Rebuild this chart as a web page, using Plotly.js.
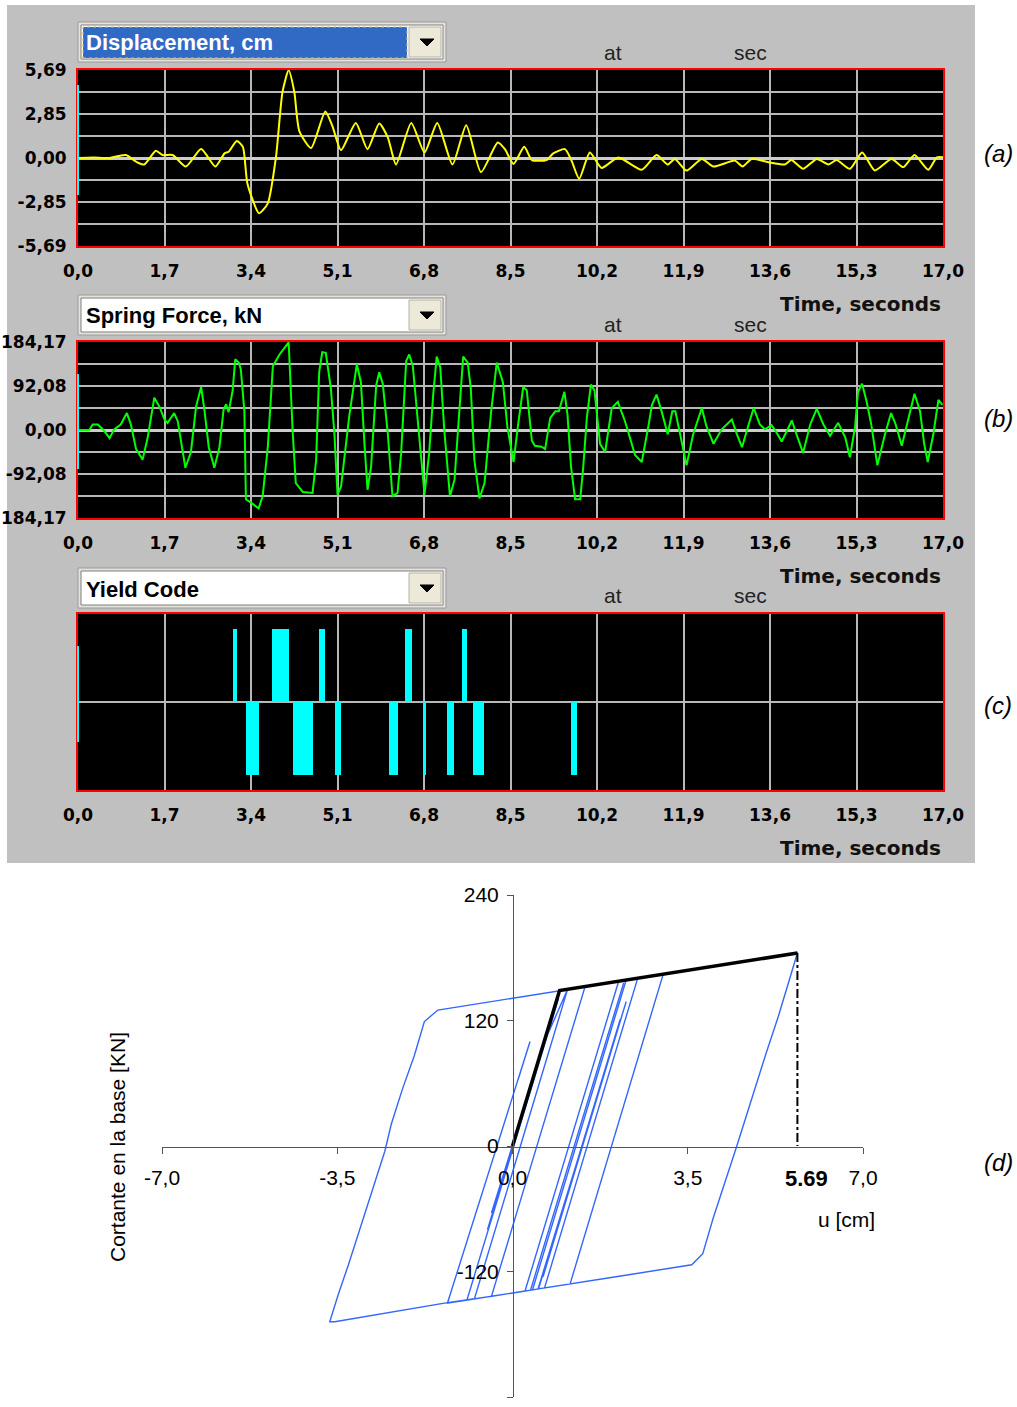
<!DOCTYPE html>
<html>
<head>
<meta charset="utf-8">
<script src="https://cdn.plot.ly/plotly-3.0.1.min.js"></script>
<style>html,body{margin:0;padding:0;background:#fff;}#chart{width:1017px;height:1407px;}</style>
</head>
<body>
<div id="chart"></div>
<script>
// ---------- DATA ----------
const timeTickVals = [0, 1.7, 3.4, 5.1, 6.8, 8.5, 10.2, 11.9, 13.6, 15.3, 17.0];
const timeTickLabels = ['0,0','1,7','3,4','5,1','6,8','8,5','10,2','11,9','13,6','15,3','17,0'];

const dispTickVals = [-5.69,-4.2675,-2.845,-1.4225,0,1.4225,2.845,4.2675,5.69];
const dispTickLabels = ['-5,69','','-2,85','','0,00','','2,85','','5,69'];

const forceTickVals = [-184.17,-138.13,-92.08,-46.04,0,46.04,92.08,138.13,184.17];
const forceTickLabels = ['184,17','','-92,08','','0,00','','92,08','','184,17'];

// (a) displacement, cm
const dispT = [0,0.3,0.6,0.94,1.15,1.30,1.53,1.66,1.86,2.12,2.42,2.70,2.88,2.96,3.12,3.24,3.33,3.56,3.73,3.89,4.02,4.14,4.25,4.35,4.58,4.86,5.00,5.17,5.46,5.69,5.92,6.09,6.25,6.55,6.81,7.06,7.36,7.63,7.92,8.25,8.39,8.56,8.77,8.92,9.21,9.34,9.57,9.70,9.85,10.06,10.29,10.62,11.08,11.37,11.59,11.73,11.96,12.26,12.49,12.91,13.06,13.24,13.57,13.89,14.02,14.25,14.52,14.75,14.91,15.17,15.41,15.66,15.99,16.22,16.44,16.71,16.88,17.0];
const dispV = [0,0.04,0.0,0.19,-0.25,-0.42,0.47,0.19,0.19,-0.55,0.59,-0.55,0.30,0.40,1.10,0.72,-1.66,-3.57,-2.93,0.04,4.29,5.67,4.29,1.74,0.64,3.01,2.06,0.51,2.27,0.57,2.23,1.32,-0.42,2.27,0.36,2.27,-0.42,2.12,-0.91,1.00,0.57,-0.38,0.72,-0.13,-0.13,0.30,0.57,-0.17,-1.34,0.36,-0.64,0.04,-0.76,0.19,-0.42,-0.06,-0.81,-0.06,-0.55,-0.17,-0.55,-0.06,-0.28,-0.42,-0.13,-0.70,-0.06,-0.42,-0.13,-0.70,0.36,-0.81,-0.06,-0.59,0.19,-0.76,0.04,0.04];

// (b) spring force, kN
const forceT = [0,0.22,0.29,0.39,0.50,0.62,0.71,0.84,0.96,1.04,1.14,1.27,1.37,1.50,1.60,1.70,1.76,1.89,1.96,2.04,2.11,2.22,2.32,2.42,2.48,2.57,2.68,2.78,2.86,2.91,2.96,3.04,3.09,3.16,3.20,3.27,3.30,3.40,3.55,3.63,3.73,3.83,3.96,4.14,4.22,4.28,4.42,4.61,4.68,4.74,4.80,4.87,4.97,5.04,5.10,5.17,5.33,5.48,5.56,5.63,5.69,5.76,5.86,5.92,5.99,6.09,6.18,6.28,6.35,6.45,6.51,6.58,6.68,6.81,6.90,6.98,7.05,7.12,7.20,7.31,7.40,7.50,7.57,7.66,7.72,7.79,7.89,7.99,8.12,8.23,8.35,8.44,8.56,8.65,8.75,8.82,8.92,8.98,9.11,9.18,9.28,9.38,9.45,9.56,9.62,9.69,9.77,9.87,9.93,10.00,10.08,10.15,10.26,10.36,10.49,10.61,10.75,10.95,11.08,11.21,11.28,11.37,11.47,11.59,11.68,11.74,11.83,11.96,12.09,12.26,12.35,12.49,12.65,12.85,12.95,13.05,13.18,13.28,13.40,13.50,13.63,13.71,13.83,14.03,14.12,14.25,14.39,14.52,14.65,14.78,14.94,15.08,15.17,15.27,15.33,15.41,15.50,15.59,15.71,15.86,15.98,16.07,16.19,16.32,16.44,16.55,16.63,16.70,16.81,16.91,16.99];
const forceV = [0,0,11.6,11.6,0,-17,1.4,11.6,35.5,11.6,-39.6,-62,-15.7,67.5,49,21.8,15,35.5,18.4,-36,-79,-46,49,90,45.7,-36,-79,-36,42,54,37.5,83,148,141,127.5,39,-145,-152,-164,-138,-36,134,158,183.5,-5.5,-111,-130,-131.6,-63,121,163,161.7,86.6,-9,-135,-118,28.6,137.8,100,-29,-125,-77,93.5,120.7,97,-9,-138.5,-131.6,-50,144.6,158,134,18.4,-135,-50,73,153.5,131,-2,-138.5,-104,59,153.5,141,86.6,-63,-143,-111,39,141,100,4.8,-67,11.6,90,83,-22.5,-33,-35,-40,25,39,39,80,32,-77,-145,-145,-77,25,95,83,-29,-46,46,59,18.4,-53,-67,8,52.5,74,39,-9,39,39,-9,-74,-9,46,8,-29,1.4,22,-9,-36,11.6,46,11.6,1.4,10,-2,-24,20,-9,-48,11.6,44,11.6,-12,15,-16,-57,4.8,80,97,59,11.6,-74,-9,35.5,11.6,-33,25,76,39,-29,-67,-9,63,52.5];

// (c) yield code intervals
const yieldStart = [3.05,3.81,4.74,6.43,7.54,3.30,4.23,5.05,6.12,6.79,7.26,7.77,9.69];
const yieldEnd   = [3.13,4.15,4.85,6.56,7.65,3.56,4.62,5.17,6.28,6.83,7.38,7.97,9.80];
const yieldCode  = [1,1,1,1,1,-1,-1,-1,-1,-1,-1,-1,-1];

// (d) hysteresis: displacement u [cm], base shear [kN]
const hystU = [0,0.19,-0.42,0.47,-0.50,0.59,-0.50,0.66,1.10,-0.76,-1.33,-3.55,-3.65,-3.48,-3.28,-3.12,-2.92,-2.72,-2.55,-2.42,-2.19,-1.96,-1.76,-1.49,0.94,3.0,5.69,5.31,5.06,4.48,4.01,3.80,3.58,2.13,0.64,2.50,3.01,1.15,0.51,2.27,0.61,2.15,0.52,-0.42,1.45,2.27,0.40,0.36,2.22,0.36,-0.42,1.45,2.12,0.25,-0.91,0.92,-0.38,0.60,-0.19,0.53,-0.91,-1.30,0.35,-0.61,0.08,-0.75,0.18,-0.80,-0.01,-0.50,-0.16,-0.55,-0.01,-0.63,-0.02,-0.69,0.33,-0.80,0.19,-0.75,0.11];
const hystF = [0,30,-64,70,-80,92,-80,102,149.8,-146,-150,-168,-168,-142,-114,-90,-62,-31,-5,21,55.6,86.6,119,130,148.6,164,184.5,124,88,0,-68.6,-103,-113.6,-124.5,-135.7,160.4,164.3,-131.9,-136.7,138,-125,121,-136.6,-143.7,152.5,158.7,-137.5,-137.8,156,-137.8,-143.7,152.5,157.5,-138.7,-147.3,141,-64,90,-35,80,-147.3,-150.3,100,-46,59,-67,74,-74,46,-29,22,-36,46,-48,44,-57,97,-74,76,-67,63];

const skelU = [0, 0.94, 5.69];
const skelF = [0, 148.6, 184.5];
const peakU = [5.69, 5.69];
const peakF = [184.5, 0];

const xTickVals4 = [-7, -3.5, 0, 3.5, 7];
const xTickLabels4 = ['-7,0','-3,5','0,0','3,5','7,0'];
const yTickVals4 = [-240, -120, 0, 120, 240];
const yTickLabels4 = ['-240','-120','0','120','240'];

// ---------- LAYOUT HELPERS ----------
const W = 1017, H = 1407;
const px = x => x / W;
const py = y => 1 - y / H;

const tickFontBold = {family: 'DejaVu Sans', size: 17, color: '#000', weight: 'bold'};
const gridCol = '#b8b8b8';

function timeAxis() {
  return {
    domain: [px(78), px(943)], range: [0, 17],
    tickvals: timeTickVals, ticktext: timeTickLabels,
    ticks: '', showgrid: true, gridcolor: gridCol, gridwidth: 2,
    zeroline: false, showline: true, linecolor: '#ff0000', linewidth: 2, mirror: true,
    tickfont: tickFontBold, ticklabelstandoff: 9, fixedrange: true
  };
}
function valAxis(top, bottom, range, vals, labels, showLabels) {
  return {
    domain: [py(bottom), py(top)], range: range,
    tickvals: vals, ticktext: labels, showticklabels: showLabels,
    ticks: '', showgrid: true, gridcolor: gridCol, gridwidth: 2,
    zeroline: showLabels, zerolinecolor: '#cccccc', zerolinewidth: 3,
    showline: true, linecolor: '#ff0000', linewidth: 2, mirror: true,
    tickfont: tickFontBold, ticklabelstandoff: 6, fixedrange: true
  };
}

// yield bars derived from the intervals
const yieldX = yieldStart.map((s, i) => (s + yieldEnd[i]) / 2);
const yieldW = yieldStart.map((s, i) => yieldEnd[i] - s);

const traces = [
  {x: dispT, y: dispV, xaxis: 'x', yaxis: 'y', type: 'scatter', mode: 'lines',
   line: {color: '#ffff00', width: 2, shape: 'spline', smoothing: 0.6}, hoverinfo: 'skip'},
  {x: forceT, y: forceV, xaxis: 'x2', yaxis: 'y2', type: 'scatter', mode: 'lines',
   line: {color: '#00ff00', width: 2}, hoverinfo: 'skip'},
  {x: yieldX, y: yieldCode, width: yieldW, xaxis: 'x3', yaxis: 'y3', type: 'bar',
   marker: {color: '#00ffff', line: {width: 0}}, hoverinfo: 'skip'},
  {x: hystU, y: hystF, xaxis: 'x4', yaxis: 'y4', type: 'scatter', mode: 'lines',
   line: {color: '#3366ff', width: 1.4}, hoverinfo: 'skip'},
  {x: peakU, y: peakF, xaxis: 'x4', yaxis: 'y4', type: 'scatter', mode: 'lines',
   line: {color: '#000', width: 2, dash: 'dashdot'}, hoverinfo: 'skip'},
  {x: skelU, y: skelF, xaxis: 'x4', yaxis: 'y4', type: 'scatter', mode: 'lines',
   line: {color: '#000', width: 3.5}, hoverinfo: 'skip'}
];

const shapes = [
  {type: 'rect', xref: 'paper', yref: 'paper', x0: px(7), x1: px(975), y0: py(863), y1: py(5),
   fillcolor: '#c0c0c0', line: {width: 0}, layer: 'below'}
];
['x', 'x2', 'x3'].forEach((xa, i) => {
  const ya = ['y', 'y2', 'y3'][i];
  shapes.push({type: 'rect', xref: xa + ' domain', yref: ya + ' domain', x0: 0, x1: 1, y0: 0, y1: 1,
               fillcolor: '#000', line: {width: 0}, layer: 'below'});
});
// cyan marks on left borders
[[85, 195], [374, 469], [646, 742]].forEach(s => {
  shapes.push({type: 'line', xref: 'paper', yref: 'paper', x0: px(78), x1: px(78), y0: py(s[0]), y1: py(s[1]),
               line: {color: '#00ffff', width: 2}});
});

// dropdown boxes
const dropTops = [22, 295, 568];
const dropLabels = ['Displacement, cm', 'Spring Force, kN', 'Yield Code'];
const annotations = [];
dropTops.forEach((t, i) => {
  shapes.push({type: 'rect', xref: 'paper', yref: 'paper', x0: px(78), x1: px(446), y0: py(t + 40), y1: py(t),
               fillcolor: '#e4e2da', line: {color: '#9a9a9a', width: 1}});
  shapes.push({type: 'rect', xref: 'paper', yref: 'paper', x0: px(81), x1: px(443), y0: py(t + 37), y1: py(t + 3),
               fillcolor: '#ffffff', line: {color: '#7f7f7f', width: 1}});
  if (i === 0) {
    shapes.push({type: 'rect', xref: 'paper', yref: 'paper', x0: px(83), x1: px(407), y0: py(t + 36), y1: py(t + 5),
                 fillcolor: '#316ac5', line: {color: '#d8b860', width: 1, dash: 'dot'}});
  }
  shapes.push({type: 'rect', xref: 'paper', yref: 'paper', x0: px(409), x1: px(441), y0: py(t + 35), y1: py(t + 5),
               fillcolor: '#ece9d8', line: {color: '#b5b2a6', width: 1}});
  shapes.push({type: 'path', xref: 'paper', yref: 'paper',
               path: `M ${px(420)},${py(t + 17)} L ${px(434)},${py(t + 17)} L ${px(427)},${py(t + 24)} Z`,
               fillcolor: '#000', line: {color: '#000', width: 1}});
  annotations.push({xref: 'paper', yref: 'paper', x: px(84), y: py(t + 21), xanchor: 'left', yanchor: 'middle',
                    text: dropLabels[i], showarrow: false,
                    font: {family: 'Liberation Sans, Arial', size: 22, weight: 'bold', color: i === 0 ? '#ffffff' : '#000'}});
});

// "at" / "sec" / "Time, seconds"
[52, 324, 596].forEach(y => {
  annotations.push({xref: 'paper', yref: 'paper', x: px(613), y: py(y), text: 'at', showarrow: false,
                    xanchor: 'center', yanchor: 'middle', font: {family: 'Liberation Sans, Arial', size: 21, color: '#222'}});
  annotations.push({xref: 'paper', yref: 'paper', x: px(750), y: py(y), text: 'sec', showarrow: false,
                    xanchor: 'center', yanchor: 'middle', font: {family: 'Liberation Sans, Arial', size: 21, color: '#222'}});
});
[304, 576, 848].forEach(y => {
  annotations.push({xref: 'paper', yref: 'paper', x: px(943), y: py(y), text: 'Time, seconds', showarrow: false,
                    xanchor: 'right', yanchor: 'middle', font: {family: 'DejaVu Sans', size: 20, weight: 'bold', color: '#111'}});
});
// panel letters
[['(a)', 154], ['(b)', 418], ['(c)', 706], ['(d)', 1162]].forEach(p => {
  annotations.push({xref: 'paper', yref: 'paper', x: px(998), y: py(p[1]), text: p[0], showarrow: false,
                    xanchor: 'center', yanchor: 'middle', font: {family: 'Liberation Sans, Arial', size: 24, style: 'italic', color: '#000'}});
});
// panel (d) texts
annotations.push({xref: 'paper', yref: 'paper', x: px(806), y: py(1178), text: '5.69', showarrow: false,
                  xanchor: 'center', yanchor: 'middle', font: {family: 'Liberation Sans, Arial', size: 22, weight: 'bold', color: '#000'}});
annotations.push({xref: 'paper', yref: 'paper', x: px(846), y: py(1219), text: 'u [cm]', showarrow: false,
                  xanchor: 'center', yanchor: 'middle', font: {family: 'Liberation Sans, Arial', size: 21, color: '#000'}});
annotations.push({xref: 'paper', yref: 'paper', x: px(117), y: py(1147), text: 'Cortante en la base [KN]', showarrow: false,
                  textangle: -90, xanchor: 'center', yanchor: 'middle', font: {family: 'Liberation Sans, Arial', size: 21, color: '#000'}});

const layout = {
  width: W, height: H, margin: {l: 0, r: 0, t: 0, b: 0},
  paper_bgcolor: '#ffffff', plot_bgcolor: 'rgba(0,0,0,0)', showlegend: false, bargap: 0,
  xaxis: Object.assign(timeAxis(), {anchor: 'y'}),
  yaxis: Object.assign(valAxis(70, 246, [-5.69, 5.69], dispTickVals, dispTickLabels, true), {anchor: 'x'}),
  xaxis2: Object.assign(timeAxis(), {anchor: 'y2'}),
  yaxis2: Object.assign(valAxis(342, 518, [-184.17, 184.17], forceTickVals, forceTickLabels, true), {anchor: 'x2'}),
  xaxis3: Object.assign(timeAxis(), {anchor: 'y3'}),
  yaxis3: Object.assign(valAxis(614, 790, [-1.2, 1.2], [0], [''], false), {anchor: 'x3'}),
  xaxis4: {
    domain: [px(162), px(863)], range: [-7, 7], anchor: 'free', position: py(1147),
    tickvals: xTickVals4, ticktext: xTickLabels4, ticks: 'outside', ticklen: 6, tickcolor: '#555',
    showline: true, linecolor: '#555', linewidth: 1, showgrid: false, zeroline: false,
    tickfont: {family: 'Liberation Sans, Arial', size: 21, color: '#000'}, ticklabelstandoff: 6, fixedrange: true
  },
  yaxis4: {
    domain: [py(1397), py(895)], range: [-240, 240], anchor: 'free', position: px(513),
    tickvals: yTickVals4, ticktext: yTickLabels4, ticks: 'outside', ticklen: 6, tickcolor: '#555',
    showline: true, linecolor: '#555', linewidth: 1, showgrid: false, zeroline: false,
    tickfont: {family: 'Liberation Sans, Arial', size: 21, color: '#000'}, ticklabelstandoff: 4, fixedrange: true
  },
  shapes: shapes,
  annotations: annotations
};

Plotly.newPlot('chart', traces, layout, {staticPlot: true, displayModeBar: false});
</script>
</body>
</html>
